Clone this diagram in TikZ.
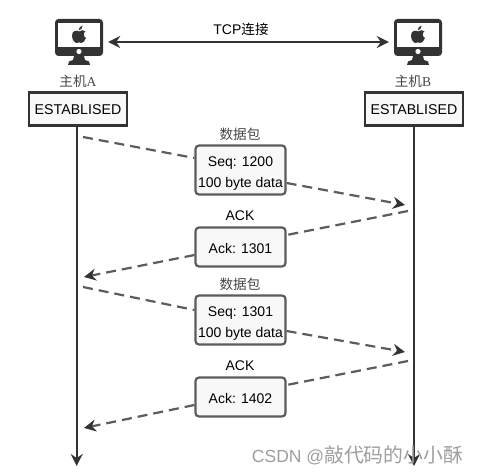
\documentclass[tikz,border=0pt]{standalone}
\usepackage{fontspec}
\usetikzlibrary{arrows.meta,calc,backgrounds}
\setmainfont{Liberation Sans}
\newfontfamily\cjk{Noto Sans CJK SC}
\newfontfamily\serifl{Liberation Serif}
\definecolor{ink}{HTML}{333333}
\definecolor{dash}{HTML}{5C5C5C}
\definecolor{boxfill}{HTML}{F8F8F8}
\tikzset{
  statebox/.style={draw=ink,line width=2.4pt,fill=boxfill,minimum width=98pt,minimum height=33pt,inner sep=0pt,text height=12pt,text depth=0pt,font=\fontsize{14.2}{16}\selectfont},
  msgbox/.style={draw=dash,line width=2.2pt,fill=boxfill,rounded corners=3.5pt,minimum width=90pt,inner sep=0pt,align=center,font=\fontsize{14}{21}\selectfont},
  twoline/.style={msgbox,minimum height=49pt,text height=34pt,text depth=0pt},
  oneline/.style={msgbox,minimum height=39pt,text height=12pt,text depth=0pt},
  lbl/.style={inner sep=0pt,font=\fontsize{14}{16}\selectfont},
  cjklbl/.style={inner sep=0pt,text=black!72,font=\cjk\fontsize{13.6}{16}\selectfont},
  iconbox/.style={minimum width=48pt,minimum height=46pt,inner sep=0pt},
  lifeline/.style={draw=ink,line width=2.4pt,-{Stealth[length=12pt,width=12pt,inset=4pt]}},
  msgline/.style={draw=dash,line width=2.2pt,dash pattern=on 10pt off 6pt},
  msgend/.style={msgline,-{Stealth[length=12pt,width=12pt,inset=4pt,fill=ink,color=ink]}},
  tcpline/.style={draw=ink,line width=2.2pt,{Stealth[length=12pt,width=12pt,inset=4pt]}-{Stealth[length=12pt,width=12pt,inset=4pt]},shorten >=5pt,shorten <=5pt},
  pics/mac/.style={code={
    \fill[ink,rounded corners=3.5pt] (-24,-23) rectangle (24,14);
    \fill[white] (-21,-19) rectangle (21,5);
    \fill[white] (0,9.5) circle (2.6);
    \fill[ink] (-5,14) -- (5,14) -- (6,18) -- (10,19.5) -- (11,23) -- (-11,23) -- (-10,19.5) -- (-6,18) -- cycle;
    % apple body
    \fill[ink] (0,-10.5) .. controls (-2,-12) and (-7,-12) .. (-7,-6.5)
      .. controls (-7,-2) and (-4,1) .. (-2.5,1) .. controls (-1.5,1) and (-1,0.3) .. (0,0.3)
      .. controls (1,0.3) and (1.5,1) .. (2.5,1) .. controls (4.2,1) and (6,-1.5) .. (7,-4)
      .. controls (4,-5.5) and (4,-9.5) .. (6.5,-10.5) .. controls (5,-12.5) and (2,-12) .. (0,-10.5) -- cycle;
    \fill[ink] (-0.4,-11.5) .. controls (-0.4,-14) and (1.5,-16) .. (3.5,-16.5) .. controls (3.8,-14) and (2,-11.8) .. (-0.4,-11.5) -- cycle;
  }}
}
\begin{document}
\begin{tikzpicture}[x=1pt,y=-1pt]
\useasboundingbox (0,0) rectangle (478,473);
\fill[white] (0,0) rectangle (478,473);
% hosts
\node[iconbox] (iconA) at (79,42) {};
\node[iconbox] (iconB) at (418,42) {};
\pic at (iconA.center) {mac};
\pic at (iconB.center) {mac};
\draw[tcpline] (iconA.east) -- (iconB.west);
\node[lbl] (tcp) at (241,29) {TCP{\cjk\fontsize{13.6}{16}\selectfont 连接}};
\node[cjklbl] (nameA) at (78,81) {主机{\serifl A}};
\node[cjklbl] (nameB) at (413,81) {主机{\serifl B}};
\node[statebox] (stateA) at (78,109) {ESTABLISED};
\node[statebox] (stateB) at (414,109) {ESTABLISED};
% lifelines
\coordinate (endA) at (76.7,466);
\coordinate (endB) at (414,466);
\draw[lifeline] (stateA.south -| endA) -- (endA);
\draw[lifeline] (stateB.south -| endB) -- (endB);
% message boxes
\node[twoline] (m1) at (240.5,170) {Seq: 1200\\100 byte data};
\node[oneline] (m2) at (240.5,247) {Ack: 1301};
\node[twoline] (m3) at (240.5,320) {Seq: 1301\\100 byte data};
\node[oneline] (m4) at (240.5,397) {Ack: 1402};
\node[cjklbl] (l1) at (240,134) {数据包};
\node[lbl] (l2) at (240,216) {ACK};
\node[cjklbl] (l3) at (240,284) {数据包};
\node[lbl] (l4) at (240,366) {ACK};
% free ends
\coordinate (s1) at (83,137);
\coordinate (e1) at (405,205);
\coordinate (s2) at (408,211);
\coordinate (e2) at (84,277);
\coordinate (s3) at (83,287);
\coordinate (e3) at (405,352);
\coordinate (s4) at (408,361);
\coordinate (e4) at (84,428);
\draw[msgline] (s1) -- ($(m1.west)+(0,-12)$);
\draw[msgend] ($(m1.east)+(0,13)$) -- (e1);
\draw[msgline] (s2) -- ($(m2.east)+(0,-12)$);
\draw[msgend] ($(m2.west)+(0,8)$) -- (e2);
\draw[msgline] (s3) -- ($(m3.west)+(0,-10)$);
\draw[msgend] ($(m3.east)+(0,11)$) -- (e3);
\draw[msgline] (s4) -- ($(m4.east)+(0,-12)$);
\draw[msgend] ($(m4.west)+(0,8)$) -- (e4);
% watermark
\node[inner sep=0pt,anchor=east,text=black!38] (mark) at (463,455) {\fontsize{17.5}{20}\selectfont CSDN @{\cjk\fontsize{19.8}{20}\selectfont 敲代码的小小酥}};
\end{tikzpicture}
\end{document}
